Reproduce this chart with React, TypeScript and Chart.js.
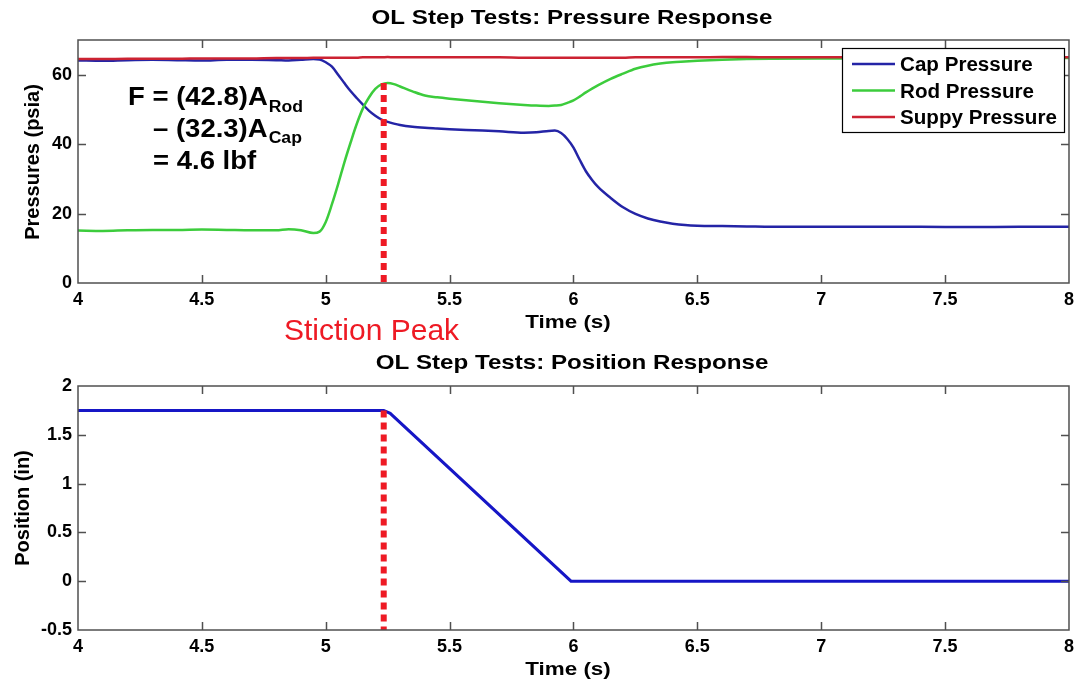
import React, { useEffect, useRef } from "react";
import { Chart, registerables } from "chart.js";

Chart.register(...registerables);

// ---- Pressure response (psia) ----
const pressureTime = [
  4.0, 4.1, 4.2, 4.3, 4.4, 4.5, 4.6, 4.7, 4.8, 4.85,
  4.9, 4.95, 4.975, 5.0, 5.025, 5.05, 5.075, 5.1, 5.125, 5.15,
  5.175, 5.2, 5.225, 5.25, 5.275, 5.3, 5.35, 5.4, 5.45, 5.5,
  5.6, 5.7, 5.8, 5.85, 5.9, 5.925, 5.95, 5.975, 6.0, 6.025,
  6.05, 6.075, 6.1, 6.15, 6.2, 6.25, 6.3, 6.35, 6.4, 6.45,
  6.5, 6.6, 6.7, 6.8, 7.0, 7.2, 7.4, 7.6, 7.8, 8.0,
];
const capPressure = [
  64.1, 64.0, 64.2, 64.3, 64.2, 64.1, 64.3, 64.3, 64.2, 64.1,
  64.3, 64.5, 64.4, 63.6, 62.3, 60.0, 57.6, 55.3, 53.3, 51.4,
  49.6, 48.2, 47.1, 46.4, 45.9, 45.5, 45.0, 44.7, 44.5, 44.3,
  44.0, 43.7, 43.3, 43.4, 43.8, 43.9, 43.2, 41.5, 39.0, 35.5,
  32.2, 29.7, 27.6, 24.5, 21.8, 19.9, 18.6, 17.7, 17.1, 16.7,
  16.5, 16.4, 16.3, 16.2, 16.2, 16.2, 16.2, 16.1, 16.2, 16.2,
];
const rodPressure = [
  15.1, 15.0, 15.2, 15.3, 15.3, 15.4, 15.3, 15.2, 15.2, 15.5,
  15.2, 14.4, 14.8, 17.6, 22.7, 28.5, 34.7, 40.4, 45.8, 50.3,
  53.5, 55.9, 57.2, 57.6, 57.3, 56.6, 55.2, 54.0, 53.5, 53.1,
  52.4, 51.8, 51.3, 51.1, 51.0, 51.1, 51.3, 51.9, 52.6, 53.7,
  54.9, 56.0, 57.0, 58.8, 60.3, 61.7, 62.6, 63.2, 63.6, 63.8,
  64.0, 64.3, 64.5, 64.6, 64.7, 64.7, 64.8, 64.8, 64.8, 64.8,
];
const supplyPressure = [
  64.5, 64.5, 64.6, 64.6, 64.6, 64.7, 64.7, 64.7, 64.8, 64.8,
  64.8, 64.9, 64.9, 64.9, 64.9, 64.9, 64.9, 64.9, 64.9, 65.0,
  65.0, 65.0, 65.0, 65.1, 65.0, 65.0, 65.0, 65.0, 65.0, 65.0,
  65.0, 65.0, 64.9, 64.9, 64.9, 64.9, 64.9, 64.9, 64.9, 64.9,
  64.9, 64.9, 64.9, 64.9, 64.9, 65.0, 65.0, 65.0, 65.0, 65.0,
  65.0, 65.1, 65.1, 65.0, 65.0, 65.0, 65.0, 65.0, 65.0, 65.0,
];

// ---- Position response (in) ----
const positionTime = [4.0, 5.234, 5.26, 5.99, 8.0];
const positionInches = [1.75, 1.75, 1.72, 0.0, 0.0];

// ---- Stiction marker ----
const stictionTime = 5.234;
const stictionPressurePeak = 57.6;
const stictionPosition = 1.75;

// ---- Axes ----
const timeTicks = [4, 4.5, 5, 5.5, 6, 6.5, 7, 7.5, 8];
const pressureTicks = [0, 20, 40, 60];
const positionTicks = [-0.5, 0, 0.5, 1, 1.5, 2];

const seriesNames = ["Cap Pressure", "Rod Pressure", "Suppy Pressure"];
const seriesColors = ["#2424a6", "#3ccc3c", "#cc2232"];
const positionColor = "#1616c6";
const stictionColor = "#ee1a24";

const FONT = "'Liberation Sans', Arial, Helvetica, sans-serif";

type TextOpts = {
  size: number;
  bold?: boolean;
  color?: string;
  align?: "left" | "center" | "right";
  stretch?: number;
};

function drawText(ctx: CanvasRenderingContext2D, text: string, x: number, y: number, o: TextOpts): number {
  ctx.save();
  ctx.font = `${o.bold ? "bold " : ""}${o.size}px ${FONT}`;
  ctx.fillStyle = o.color ?? "#000";
  ctx.textBaseline = "alphabetic";
  ctx.textAlign = "left";
  const sx = o.stretch ?? 1;
  const w = ctx.measureText(text).width * sx;
  let x0 = x;
  if (o.align === "center") x0 = x - w / 2;
  else if (o.align === "right") x0 = x - w;
  ctx.translate(x0, y);
  ctx.scale(sx, 1);
  ctx.fillText(text, 0, 0);
  ctx.restore();
  return w;
}

function drawVertical(ctx: CanvasRenderingContext2D, text: string, x: number, cy: number, size: number) {
  ctx.save();
  ctx.translate(x, cy);
  ctx.rotate(-Math.PI / 2);
  ctx.font = `bold ${size}px ${FONT}`;
  ctx.fillStyle = "#000";
  ctx.textAlign = "center";
  ctx.textBaseline = "alphabetic";
  ctx.fillText(text, 0, 0);
  ctx.restore();
}

// Box around the axes with inward tick marks on all four sides
const framePlugin = {
  id: "frame",
  afterDatasetsDraw(chart: any) {
    const { ctx, chartArea } = chart;
    const { left, right, top, bottom } = chartArea;
    const xs = chart.scales.x;
    const ys = chart.scales.y;
    const len = 8;
    ctx.save();
    ctx.strokeStyle = "#505050";
    ctx.lineWidth = 1.5;
    ctx.strokeRect(left, top, right - left, bottom - top);
    ctx.beginPath();
    xs.ticks.forEach((t: any) => {
      const px = Math.round(xs.getPixelForValue(t.value)) + 0.5;
      if (px <= left + 1 || px >= right - 1) return;
      ctx.moveTo(px, bottom);
      ctx.lineTo(px, bottom - len);
      ctx.moveTo(px, top);
      ctx.lineTo(px, top + len);
    });
    ys.ticks.forEach((t: any) => {
      const py = Math.round(ys.getPixelForValue(t.value)) + 0.5;
      if (py <= top + 1 || py >= bottom - 1) return;
      ctx.moveTo(left, py);
      ctx.lineTo(left + len, py);
      ctx.moveTo(right, py);
      ctx.lineTo(right - len, py);
    });
    ctx.stroke();
    ctx.restore();
  },
};

function baseOptions(yMin: number, yMax: number, yTicks: number[], xAxisHeight: number, decorate: (chart: any) => void) {
  const tickFont = { family: FONT, size: 18, weight: "bold" as const };
  return {
    responsive: false,
    animation: false as const,
    devicePixelRatio: 1,
    layout: { padding: { top: 40, right: 10, bottom: 0, left: 0 } },
    plugins: {
      legend: { display: false },
      title: { display: false },
      tooltip: { enabled: false },
      decor: { draw: decorate },
    },
    elements: { point: { radius: 0 } },
    scales: {
      x: {
        type: "linear" as const,
        min: 4,
        max: 8,
        afterBuildTicks: (s: any) => {
          s.ticks = timeTicks.map((v) => ({ value: v }));
        },
        afterFit: (s: any) => {
          s.height = xAxisHeight;
        },
        grid: { display: false, drawTicks: false },
        border: { display: false },
        ticks: {
          font: tickFont,
          color: "#000",
          padding: 6,
          maxRotation: 0,
          autoSkip: false,
          callback: (v: any) => String(v),
        },
      },
      y: {
        type: "linear" as const,
        min: yMin,
        max: yMax,
        afterBuildTicks: (s: any) => {
          s.ticks = yTicks.map((v) => ({ value: v }));
        },
        afterFit: (s: any) => {
          s.width = 78;
        },
        grid: { display: false, drawTicks: false },
        border: { display: false },
        ticks: {
          font: tickFont,
          color: "#000",
          padding: 6,
          autoSkip: false,
          callback: (v: any) => String(v),
        },
      },
    },
  };
}

const decorPlugin = {
  id: "decor",
  afterDraw(chart: any, _args: any, opts: any) {
    if (opts && typeof opts.draw === "function") opts.draw(chart);
  },
};

function decoratePressure(chart: any) {
  const ctx: CanvasRenderingContext2D = chart.ctx;
  drawText(ctx, "OL Step Tests: Pressure Response", 572, 23.5, { size: 21, bold: true, align: "center", stretch: 1.15 });
  drawText(ctx, "Time (s)", 568, 328, { size: 19, bold: true, align: "center", stretch: 1.18 });
  drawVertical(ctx, "Pressures (psia)", 38.5, 162, 20);

  // Force balance at the stiction peak
  let x = 128;
  x += drawText(ctx, "F = (42.8)A", x, 105, { size: 25, bold: true, stretch: 1.1 });
  drawText(ctx, "Rod", x + 1, 112, { size: 16, bold: true, stretch: 1.1 });
  x = 153;
  x += drawText(ctx, "\u2013 (32.3)A", x, 137, { size: 25, bold: true, stretch: 1.1 });
  drawText(ctx, "Cap", x + 1, 143, { size: 16, bold: true, stretch: 1.1 });
  drawText(ctx, "= 4.6 lbf", 153, 169, { size: 25, bold: true, stretch: 1.1 });

  drawText(ctx, "Stiction Peak", 284, 340, { size: 30, color: stictionColor });

  // Legend
  const bx = 842, by = 48, bw = 222, bh = 84;
  ctx.save();
  ctx.fillStyle = "#fff";
  ctx.fillRect(bx, by, bw, bh);
  ctx.strokeStyle = "#000";
  ctx.lineWidth = 1.2;
  ctx.strokeRect(bx + 0.5, by + 0.5, bw, bh);
  const rows = [64, 90.5, 117];
  seriesNames.forEach((name, i) => {
    ctx.strokeStyle = seriesColors[i];
    ctx.lineWidth = 2.5;
    ctx.beginPath();
    ctx.moveTo(852, rows[i]);
    ctx.lineTo(895, rows[i]);
    ctx.stroke();
    drawText(ctx, name, 900, rows[i] + 7, { size: 20, bold: true, stretch: 1.03 });
  });
  ctx.restore();
}

function decoratePosition(chart: any) {
  const ctx: CanvasRenderingContext2D = chart.ctx;
  drawText(ctx, "OL Step Tests: Position Response", 572, 23, { size: 21, bold: true, align: "center", stretch: 1.15 });
  drawText(ctx, "Time (s)", 568, 329, { size: 19, bold: true, align: "center", stretch: 1.18 });
  drawVertical(ctx, "Position (in)", 28.5, 162, 20);
}

function pts(xs: number[], ys: number[]) {
  return xs.map((t, i) => ({ x: t, y: ys[i] }));
}

export default function App() {
  const topRef = useRef<HTMLCanvasElement | null>(null);
  const botRef = useRef<HTMLCanvasElement | null>(null);

  useEffect(() => {
    if (!topRef.current || !botRef.current) return;

    const pressureChart = new Chart(topRef.current, {
      type: "line",
      data: {
        datasets: [
          {
            label: "Stiction Peak",
            data: [
              { x: stictionTime, y: stictionPressurePeak },
              { x: stictionTime, y: 0 },
            ],
            borderColor: stictionColor,
            borderWidth: 6,
            borderDash: [7, 5],
            borderCapStyle: "butt",
            order: 0,
          },
          {
            label: seriesNames[2],
            data: pts(pressureTime, supplyPressure),
            borderColor: seriesColors[2],
            borderWidth: 2.5,
            cubicInterpolationMode: "monotone",
            order: 1,
          },
          {
            label: seriesNames[1],
            data: pts(pressureTime, rodPressure),
            borderColor: seriesColors[1],
            borderWidth: 2.5,
            cubicInterpolationMode: "monotone",
            order: 2,
          },
          {
            label: seriesNames[0],
            data: pts(pressureTime, capPressure),
            borderColor: seriesColors[0],
            borderWidth: 2.5,
            cubicInterpolationMode: "monotone",
            order: 3,
          },
        ],
      },
      options: baseOptions(0, 70, pressureTicks, 63, decoratePressure) as any,
      plugins: [framePlugin, decorPlugin],
    });

    const positionChart = new Chart(botRef.current, {
      type: "line",
      data: {
        datasets: [
          {
            label: "Stiction Peak",
            data: [
              { x: stictionTime, y: stictionPosition },
              { x: stictionTime, y: -0.5 },
            ],
            borderColor: stictionColor,
            borderWidth: 6,
            borderDash: [7, 5],
            borderCapStyle: "butt",
            order: 0,
          },
          {
            label: "Position",
            data: pts(positionTime, positionInches),
            borderColor: positionColor,
            borderWidth: 3,
            order: 1,
          },
        ],
      },
      options: baseOptions(-0.5, 2, positionTicks, 53, decoratePosition) as any,
      plugins: [framePlugin, decorPlugin],
    });

    return () => {
      pressureChart.destroy();
      positionChart.destroy();
    };
  }, []);

  return (
    <div
      style={{
        position: "fixed",
        left: 0,
        top: 0,
        width: 1080,
        height: 683,
        background: "#fff",
        overflow: "hidden",
      }}
    >
      <canvas ref={topRef} width={1080} height={346} style={{ display: "block", width: 1080, height: 346 }} />
      <canvas ref={botRef} width={1080} height={337} style={{ display: "block", width: 1080, height: 337 }} />
    </div>
  );
}
